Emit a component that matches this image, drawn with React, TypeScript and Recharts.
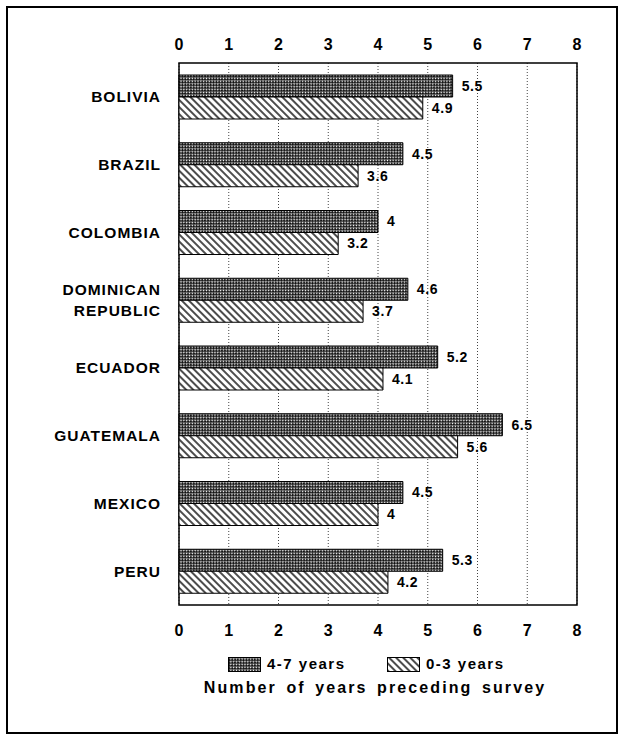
import { BarChart, Bar, XAxis, YAxis, CartesianGrid, LabelList, ReferenceArea } from 'recharts'

const countries = ['BOLIVIA', 'BRAZIL', 'COLOMBIA', 'DOMINICAN REPUBLIC', 'ECUADOR', 'GUATEMALA', 'MEXICO', 'PERU']
const recent4to7 = [5.5, 4.5, 4, 4.6, 5.2, 6.5, 4.5, 5.3]
const recent0to3 = [4.9, 3.6, 3.2, 3.7, 4.1, 5.6, 4, 4.2]
const xTicks = [0, 1, 2, 3, 4, 5, 6, 7, 8]

const data = countries.map((c, i) => ({ country: c, a: recent4to7[i], b: recent0to3[i] }))

const FONT = '"Liberation Sans", Arial, sans-serif'

function CountryTick({ x, y, payload }: any) {
  const words: string[] = payload.value === 'DOMINICAN REPUBLIC' ? ['DOMINICAN', 'REPUBLIC'] : [payload.value]
  const start = -((words.length - 1) * 21) / 2
  return (
    <text x={x} y={y} textAnchor="end" fontFamily={FONT} fontWeight={700} fontSize={15.5} letterSpacing={1} fill="#000">
      {words.map((w, i) => (
        <tspan key={w} x={x} dy={i === 0 ? start + 5.5 : 21}>
          {w}
        </tspan>
      ))}
    </text>
  )
}

function Swatch({ fill, left }: { fill: string; left: number }) {
  return (
    <svg width={34} height={16} style={{ position: 'absolute', left, top: 657 }}>
      <rect x={0.5} y={0.5} width={32} height={14} fill={fill} stroke="#000" />
    </svg>
  )
}

const textStyle = { position: 'absolute' as const, fontFamily: FONT, fontWeight: 700, color: '#000', whiteSpace: 'nowrap' as const }

export default function App() {
  const tick = { fontFamily: FONT, fontWeight: 700, fontSize: 16, fill: '#000' }
  const lab = { fontFamily: FONT, fontWeight: 700, fontSize: 14, letterSpacing: 0.6, fill: '#000' }
  return (
    <div style={{ position: 'absolute', left: 0, top: 0, width: 622, height: 740, background: '#fff' }}>
      <div style={{ position: 'absolute', left: 6, top: 6, width: 608, height: 724, border: '2px solid #000' }} />
      <div style={{ position: 'absolute', left: 0, top: 0 }}>
        <BarChart
          width={622}
          height={740}
          data={data}
          layout="vertical"
          barSize={22}
          barGap={0}
          margin={{ top: 33, right: 45, bottom: 95, left: 9 }}
        >
          <defs>
            <pattern id="cross" width={4} height={4} patternUnits="userSpaceOnUse" patternTransform="rotate(45)">
              <rect width={4} height={4} fill="#111" />
              <rect x={0.5} y={0.5} width={1.6} height={1.6} fill="#fff" />
              <rect x={2.5} y={2.5} width={1.6} height={1.6} fill="#fff" />
            </pattern>
            <pattern id="hatch" width={5} height={5} patternUnits="userSpaceOnUse" patternTransform="rotate(-45)">
              <rect width={5} height={5} fill="#fff" />
              <line x1={1} y1={0} x2={1} y2={5} stroke="#000" strokeWidth={1.4} />
            </pattern>
          </defs>
          <CartesianGrid xAxisId="top" horizontal={false} stroke="#444" strokeDasharray="1 2" />
          <XAxis
            xAxisId="top"
            orientation="top"
            type="number"
            domain={[0, 8]}
            ticks={xTicks}
            height={30}
            axisLine={false}
            tickLine={false}
            tickSize={0}
            tickMargin={13}
            tick={tick}
          />
          <XAxis
            xAxisId="bottom"
            orientation="bottom"
            type="number"
            domain={[0, 8]}
            ticks={xTicks}
            height={40}
            axisLine={false}
            tickLine={false}
            tickSize={0}
            tickMargin={20}
            tick={tick}
          />
          <YAxis
            type="category"
            dataKey="country"
            width={170}
            axisLine={false}
            tickLine={false}
            tickSize={0}
            tickMargin={18}
            tick={<CountryTick />}
          />
          <ReferenceArea xAxisId="top" x1={0} x2={8} fill="none" stroke="#000" strokeWidth={1.5} ifOverflow="visible" />
          <Bar xAxisId="top" dataKey="a" fill="url(#cross)" stroke="#000" strokeWidth={1} isAnimationActive={false}>
            <LabelList dataKey="a" position="right" offset={9} style={lab} />
          </Bar>
          <Bar xAxisId="bottom" dataKey="b" fill="url(#hatch)" stroke="#000" strokeWidth={1} isAnimationActive={false}>
            <LabelList dataKey="b" position="right" offset={9} style={lab} />
          </Bar>
        </BarChart>
      </div>
      <Swatch fill="url(#cross)" left={228} />
      <div style={{ ...textStyle, left: 267, top: 655, fontSize: 15, letterSpacing: 1.5 }}>4-7 years</div>
      <Swatch fill="url(#hatch)" left={387} />
      <div style={{ ...textStyle, left: 426, top: 655, fontSize: 15, letterSpacing: 1.5 }}>0-3 years</div>
      <div style={{ ...textStyle, left: 175, width: 400, textAlign: 'center', top: 679, fontSize: 16, letterSpacing: 2.1, wordSpacing: 3 }}>
        Number of years preceding survey
      </div>
    </div>
  )
}
